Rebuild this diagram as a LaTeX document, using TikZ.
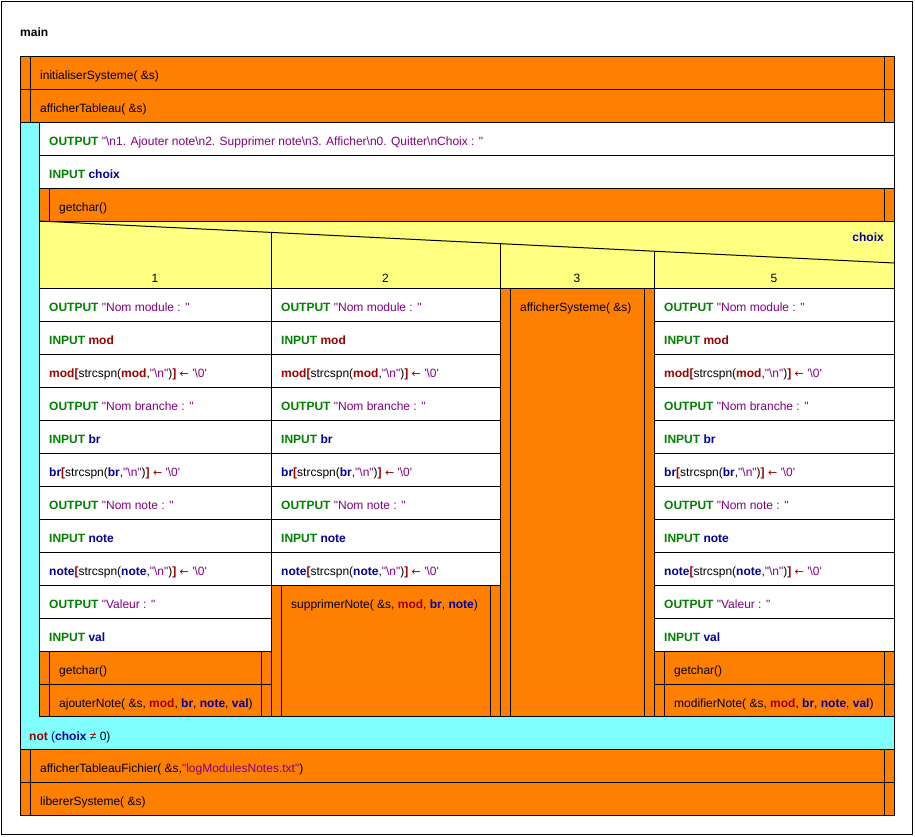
\documentclass[tikz,border=0pt]{standalone}
\usepackage{fontspec}
\setmainfont{Liberation Sans}[Ligatures=TeXOff]
\newfontfamily\symfont{DejaVu Sans}
\definecolor{nsorange}{HTML}{FF8000}
\definecolor{nscyan}{HTML}{80FFFF}
\definecolor{nsyellow}{HTML}{FFFF80}
\definecolor{kwgreen}{HTML}{008000}
\definecolor{strpurple}{HTML}{800080}
\definecolor{opred}{HTML}{990000}
\definecolor{varblue}{HTML}{000099}
\newcommand\kwd[1]{\textcolor{kwgreen}{\bfseries #1}}
\newcommand\vrb[1]{\textcolor{varblue}{\bfseries #1}}
\newcommand\opr[1]{\textcolor{opred}{\bfseries #1}}
\newcommand\strg[1]{\textcolor{strpurple}{#1}}
\newcommand\bsl{\textbackslash}
\newcommand\asgn{\textcolor{opred}{{\symfont\fontsize{11}{13}\selectfont ←}}}
\newcommand\linemod{\opr{mod}\opr{[}strcspn(\opr{mod},\strg{"\bsl n"})\opr{]} \asgn{} \strg{'\bsl 0'}}
\newcommand\linebr{\vrb{br}\opr{[}strcspn(\vrb{br},\strg{"\bsl n"})\opr{]} \asgn{} \strg{'\bsl 0'}}
\newcommand\linenote{\vrb{note}\opr{[}strcspn(\vrb{note},\strg{"\bsl n"})\opr{]} \asgn{} \strg{'\bsl 0'}}
\tikzset{
  txt/.style={anchor=base west, inner sep=0pt, font=\fontsize{12}{14}\selectfont},
  ctxt/.style={anchor=base, inner sep=0pt, font=\fontsize{12}{14}\selectfont},
  box/.style={draw=black, line width=1pt},
}
% white row: x1 x2 ytop ybot text
\newcommand\wrow[5]{%
  \draw[box, fill=white] (#1,#3) rectangle (#2,#4);
  \node[txt] at (#1+10,#3+23) {#5};}
% call box: x1 x2 ytop ybot text
\newcommand\cbox[5]{%
  \draw[box, fill=nsorange] (#1,#3) rectangle (#2,#4);
  \draw[box] (#1+10,#3) -- (#1+10,#4);
  \draw[box] (#2-9.5,#3) -- (#2-9.5,#4);
  \node[txt] at (#1+20,#3+23) {#5};}
\begin{document}
\begin{tikzpicture}[x=1pt,y=-1pt]
\useasboundingbox (0,0) rectangle (915,836);
\fill[white] (0,0) rectangle (915,836);
\draw[box] (1,1) rectangle (912,834.5);
\node[txt] (title) at (20,36) {\bfseries main};
% top calls
\cbox{20}{894}{56}{89}{initialiserSysteme( \&s)}
\cbox{20}{894}{89}{122}{afficherTableau( \&s)}
% loop
\draw[box, fill=nscyan] (20,122) rectangle (894,749);
\node[txt] (cond) at (29,740) {\opr{not} \textcolor{varblue}{(}\vrb{choix} \textcolor{opred}{≠} 0)};
\wrow{39}{894}{122}{155}{\kwd{OUTPUT} \strg{"\bsl n1. Ajouter note\bsl n2. Supprimer note\bsl n3. Afficher\bsl n0. Quitter\bsl nChoix : "}}
\wrow{39}{894}{155}{188}{\kwd{INPUT} \vrb{choix}}
\cbox{39}{894}{188}{221}{getchar()}
% case header
\draw[box, fill=nsyellow] (39,221) rectangle (894,288);
\draw[box] (39,221) -- (894,263);
\draw[box] (271,232.4) -- (271,288);
\draw[box] (500,243.6) -- (500,288);
\draw[box] (654,251.2) -- (654,288);
\node[txt, anchor=base east] (sel) at (884,241) {\vrb{choix}};
\node[ctxt] (c1) at (155,282) {1};
\node[ctxt] (c2) at (385.5,282) {2};
\node[ctxt] (c3) at (577,282) {3};
\node[ctxt] (c5) at (774,282) {5};
% column 1
\wrow{39}{271}{288}{321}{\kwd{OUTPUT} \strg{"Nom module : "}}
\wrow{39}{271}{321}{354}{\kwd{INPUT} \opr{mod}}
\wrow{39}{271}{354}{387}{\linemod}
\wrow{39}{271}{387}{420}{\kwd{OUTPUT} \strg{"Nom branche : "}}
\wrow{39}{271}{420}{453}{\kwd{INPUT} \vrb{br}}
\wrow{39}{271}{453}{486}{\linebr}
\wrow{39}{271}{486}{519}{\kwd{OUTPUT} \strg{"Nom note : "}}
\wrow{39}{271}{519}{552}{\kwd{INPUT} \vrb{note}}
\wrow{39}{271}{552}{585}{\linenote}
\wrow{39}{271}{585}{618}{\kwd{OUTPUT} \strg{"Valeur : "}}
\wrow{39}{271}{618}{651}{\kwd{INPUT} \vrb{val}}
\cbox{39}{271}{651}{684}{getchar()}
\cbox{39}{271}{684}{716}{ajouterNote( \&s, \opr{mod}, \vrb{br}, \vrb{note}, \vrb{val})}
% column 2
\wrow{271}{500}{288}{321}{\kwd{OUTPUT} \strg{"Nom module : "}}
\wrow{271}{500}{321}{354}{\kwd{INPUT} \opr{mod}}
\wrow{271}{500}{354}{387}{\linemod}
\wrow{271}{500}{387}{420}{\kwd{OUTPUT} \strg{"Nom branche : "}}
\wrow{271}{500}{420}{453}{\kwd{INPUT} \vrb{br}}
\wrow{271}{500}{453}{486}{\linebr}
\wrow{271}{500}{486}{519}{\kwd{OUTPUT} \strg{"Nom note : "}}
\wrow{271}{500}{519}{552}{\kwd{INPUT} \vrb{note}}
\wrow{271}{500}{552}{585}{\linenote}
\cbox{271}{500}{585}{716}{supprimerNote( \&s, \opr{mod}, \vrb{br}, \vrb{note})}
% column 3
\cbox{500}{654}{288}{716}{afficherSysteme( \&s)}
% column 4
\wrow{654}{894}{288}{321}{\kwd{OUTPUT} \strg{"Nom module : "}}
\wrow{654}{894}{321}{354}{\kwd{INPUT} \opr{mod}}
\wrow{654}{894}{354}{387}{\linemod}
\wrow{654}{894}{387}{420}{\kwd{OUTPUT} \strg{"Nom branche : "}}
\wrow{654}{894}{420}{453}{\kwd{INPUT} \vrb{br}}
\wrow{654}{894}{453}{486}{\linebr}
\wrow{654}{894}{486}{519}{\kwd{OUTPUT} \strg{"Nom note : "}}
\wrow{654}{894}{519}{552}{\kwd{INPUT} \vrb{note}}
\wrow{654}{894}{552}{585}{\linenote}
\wrow{654}{894}{585}{618}{\kwd{OUTPUT} \strg{"Valeur : "}}
\wrow{654}{894}{618}{651}{\kwd{INPUT} \vrb{val}}
\cbox{654}{894}{651}{684}{getchar()}
\cbox{654}{894}{684}{716}{modifierNote( \&s, \opr{mod}, \vrb{br}, \vrb{note}, \vrb{val})}
% bottom calls
\cbox{20}{894}{749}{782}{afficherTableauFichier( \&s,\strg{"logModulesNotes.txt"})}
\cbox{20}{894}{782}{815}{libererSysteme( \&s)}
\end{tikzpicture}
\end{document}
